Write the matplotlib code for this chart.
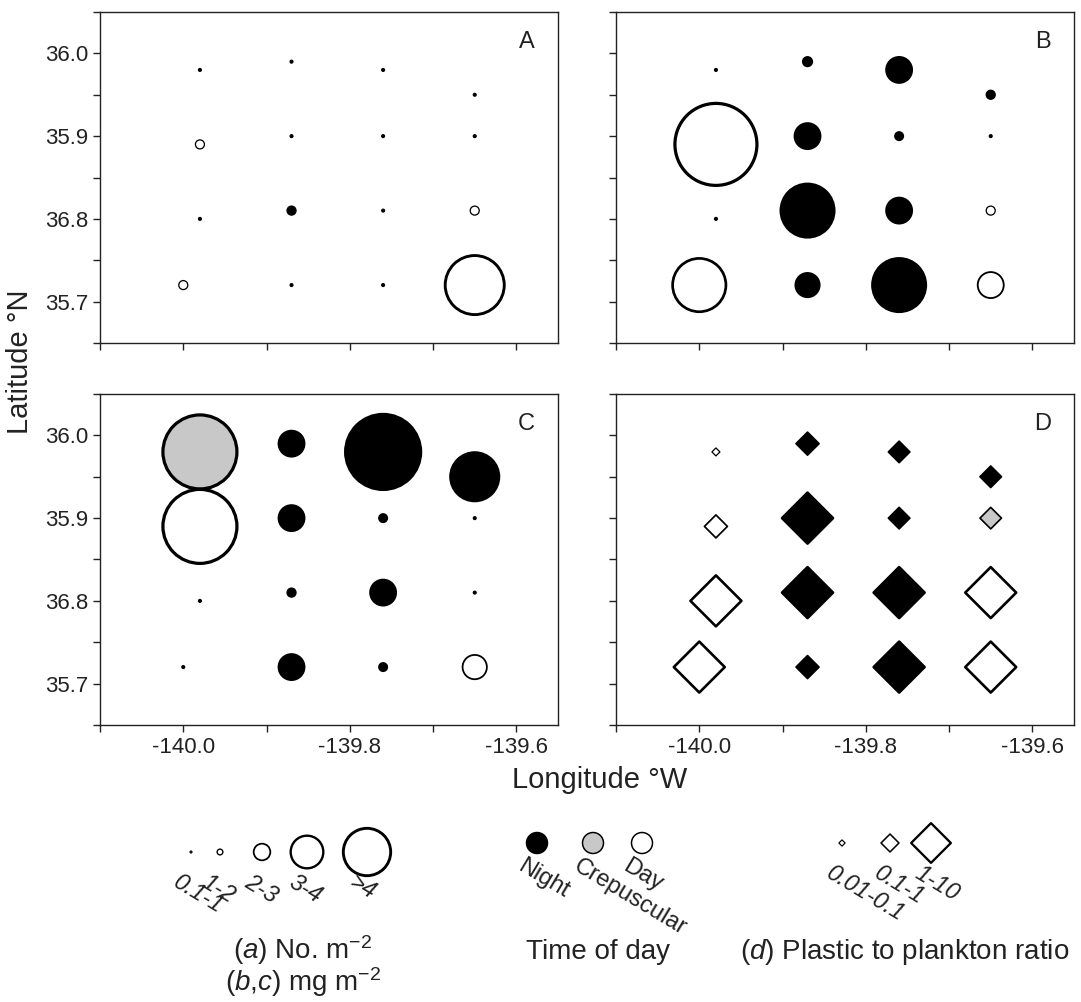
import numpy as np
import matplotlib
matplotlib.use("Agg")
import matplotlib.pyplot as plt
from matplotlib.ticker import MultipleLocator, FixedLocator, FixedFormatter

plt.rcParams['font.family'] = ['Liberation Sans', 'DejaVu Sans']
plt.rcParams['mathtext.fontset'] = 'custom'
plt.rcParams['mathtext.rm'] = 'Liberation Sans'
plt.rcParams['mathtext.it'] = 'Liberation Sans:italic'

# station positions, rows north to south
lon = [-139.98, -139.87, -139.76, -139.65,
       -139.98, -139.87, -139.76, -139.65,
       -139.98, -139.87, -139.76, -139.65,
       -140.00, -139.87, -139.76, -139.65]
lat = [35.98, 35.99, 35.98, 35.95,
       35.89, 35.90, 35.90, 35.90,
       35.80, 35.81, 35.81, 35.81,
       35.72, 35.72, 35.72, 35.72]

# circle classes (0.1-1, 1-2, 2-3, 3-4, >4) as continuous class values
a_val = [0.5, 0.5, 0.5, 0.5,
         1.5, 0.5, 0.5, 0.5,
         0.5, 1.5, 0.5, 1.5,
         1.5, 0.5, 0.5, 3.85]
a_tod = ['N', 'N', 'N', 'N',
         'D', 'N', 'N', 'N',
         'N', 'N', 'N', 'D',
         'D', 'N', 'N', 'D']

b_val = [0.5, 1.55, 2.5, 1.5,
         5.3, 2.5, 1.45, 0.5,
         0.5, 3.6, 2.5, 1.5,
         3.6, 2.4, 3.6, 2.5]
b_tod = ['N', 'N', 'N', 'N',
         'D', 'N', 'N', 'N',
         'N', 'N', 'N', 'D',
         'D', 'N', 'N', 'D']

c_val = [4.5, 2.5, 4.6, 3.4,
         4.5, 2.5, 1.45, 0.5,
         0.5, 1.5, 2.5, 0.5,
         0.5, 2.5, 1.45, 2.4]
c_tod = ['C', 'N', 'N', 'N',
         'D', 'N', 'N', 'N',
         'N', 'N', 'N', 'N',
         'N', 'N', 'N', 'D']

# plastic to plankton ratio
d_val = [0.05, 0.5, 0.4, 0.4,
         0.5, 5.0, 0.4, 0.4,
         5.0, 5.0, 5.0, 5.0,
         5.0, 0.5, 5.0, 5.0]
d_tod = ['D', 'N', 'N', 'N',
         'D', 'N', 'N', 'C',
         'D', 'N', 'N', 'D',
         'D', 'N', 'N', 'D']

circle_classes = ['0.1-1', '1-2', '2-3', '3-4', '>4']
circle_class_val = [0.5, 1.5, 2.5, 3.5, 4.5]
ratio_classes = ['0.01-0.1', '0.1-1', '1-10']
ratio_class_val = [0.05, 0.5, 5.0]
tod_names = ['Night', 'Crepuscular', 'Day']
tod_codes = ['N', 'C', 'D']

fills = {'N': 'black', 'C': '#c8c8c8', 'D': 'white'}
W, H = 1081, 1002
PT = 0.72  # points per pixel at dpi 100
INK = '#222222'


def circle_px(v):
    return np.interp(v, [0.5, 1.5, 2.5, 3.5, 4.5, 5.5], [3, 9, 26, 51, 74, 84])


def diamond_px(r):
    return np.interp(np.log10(r), [-1.3, -0.3, 0.7], [8, 23, 51])


def edge_px(d):
    return np.clip(1 + d * 0.032, 1, 3.2)


fig = plt.figure(figsize=(W / 100, H / 100), dpi=100)


def px_axes(x0, y0, x1, y1):
    return fig.add_axes([x0 / W, 1 - y1 / H, (x1 - x0) / W, (y1 - y0) / H])


boxes = [(100, 12, 558, 343), (616, 12, 1074, 343),
         (100, 394, 558, 725), (616, 394, 1074, 725)]
letters = ['A', 'B', 'C', 'D']
panels = [(a_val, a_tod), (b_val, b_tod), (c_val, c_tod), (d_val, d_tod)]

for i, (box, letter, (vals, tods)) in enumerate(zip(boxes, letters, panels)):
    ax = px_axes(*box)
    ax.set_xlim(-140.1, -139.55)
    ax.set_ylim(35.65, 36.05)
    for s in ax.spines.values():
        s.set_color(INK)
        s.set_linewidth(1.0)
    ax.xaxis.set_major_locator(FixedLocator([-140.0, -139.8, -139.6]))
    ax.xaxis.set_major_formatter(FixedFormatter(['-140.0', '-139.8', '-139.6']))
    ax.xaxis.set_minor_locator(MultipleLocator(0.1))
    ax.yaxis.set_major_locator(FixedLocator([36.0, 35.9, 35.8, 35.7]))
    ax.yaxis.set_major_formatter(FixedFormatter(['36.0', '35.9', '36.8', '35.7']))
    ax.yaxis.set_minor_locator(MultipleLocator(0.05))
    ax.tick_params(which='both', direction='out', length=5, width=1,
                   color=INK, labelsize=16, labelcolor=INK)
    if i in (0, 1):
        ax.tick_params(axis='x', labelbottom=False)
    if i in (1, 3):
        ax.tick_params(axis='y', labelleft=False)
    ax.text(0.95, 0.91, letter, transform=ax.transAxes, ha='right', va='center',
            fontsize=17, color=INK)

    v = np.array(vals)
    if i < 3:
        d = circle_px(v)
        ax.scatter(lon, lat, s=(d * PT) ** 2, marker='o',
                   c=[fills[t] for t in tods], edgecolors='black',
                   linewidths=edge_px(d) * PT, zorder=3)
    else:
        d = diamond_px(v)
        ax.scatter(lon, lat, s=(d * PT / 1.414) ** 2, marker='D',
                   c=[fills[t] for t in tods], edgecolors='black',
                   linewidths=edge_px(d) * PT, zorder=3)

fig.text(20 / W, 1 - 362 / H, 'Latitude °N', rotation=90, ha='center', va='center',
         fontsize=21, color=INK)
fig.text(600 / W, 1 - 780 / H, 'Longitude °W', ha='center', va='center',
         fontsize=21, color=INK)

# legend area in pixel coordinates
lax = fig.add_axes([0, 0, 1, 1], zorder=-1)
lax.set_xlim(0, W)
lax.set_ylim(H, 0)
lax.axis('off')

cx = [191, 220, 262, 307, 367]
cd = circle_px(np.array(circle_class_val)) * 0.64
lax.scatter(cx, [852] * 5, s=(cd * PT) ** 2, marker='o', c='white',
            edgecolors='black', linewidths=edge_px(cd) * 1.15 * PT)
for x, lab in zip(cx, circle_classes):
    lax.text(x - 10, 871, lab, rotation=-31, rotation_mode='anchor', ha='left',
             va='top', fontsize=17, style='italic', color=INK)

tx = [537, 593, 642]
lax.scatter(tx, [843] * 3, s=(21 * PT) ** 2, marker='o',
            c=[fills[t] for t in tod_codes], edgecolors='black', linewidths=1.5 * PT)
for x, lab in zip(tx, tod_names):
    lax.text(x - 12, 855, lab, rotation=-31, rotation_mode='anchor', ha='left',
             va='top', fontsize=17, color=INK)

dx = [842, 890, 931]
dd = diamond_px(np.array(ratio_class_val)) * 0.78
lax.scatter(dx, [843] * 3, s=(dd * PT / 1.414) ** 2, marker='D', c='white',
            edgecolors='black', linewidths=edge_px(dd) * PT)
for x, lab in zip(dx, ratio_classes):
    lax.text(x - 8, 862, lab, rotation=-31, rotation_mode='anchor', ha='left',
             va='top', fontsize=17, style='italic', color=INK)

lax.text(303, 950, r'($\it{a}$) No. m$^{-2}$', ha='center', va='center',
         fontsize=20, color=INK)
lax.text(303, 982, r'($\it{b}$,$\it{c}$) mg m$^{-2}$', ha='center', va='center',
         fontsize=20, color=INK)
lax.text(598, 952, 'Time of day', ha='center', va='center', fontsize=20,
         color=INK)
lax.text(905, 952, r'($\it{d}$) Plastic to plankton ratio', ha='center',
         va='center', fontsize=20, color=INK)

fig.savefig('out.png', dpi=100)
